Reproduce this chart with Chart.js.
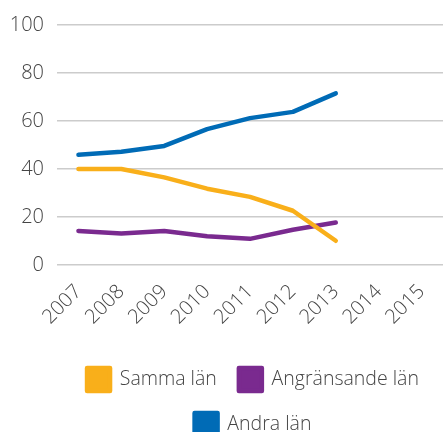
<!DOCTYPE html>
<html>
<head>
<meta charset="utf-8">
<script src="https://cdn.jsdelivr.net/npm/chart.js@4/dist/chart.umd.min.js"></script>
<style>
html,body{margin:0;padding:0;background:#fff;overflow:hidden;}
#wrap{width:443px;height:432px;overflow:hidden;}
</style>
</head>
<body>
<div id="wrap"><canvas id="c" width="443" height="446"></canvas></div>
<script>
const years = ['2007','2008','2009','2010','2011','2012','2013','2014','2015'];
const sammaLan = [40, 40, 36.5, 31.8, 28.4, 22.6, 10.1];
const angransandeLan = [14.2, 13.1, 14.2, 12.0, 10.9, 14.7, 17.7];
const andraLan = [45.9, 47.2, 49.6, 56.6, 61.2, 63.8, 71.5];
const yTicks = [0, 20, 40, 60, 80, 100];

const FONT = "'Open Sans', sans-serif";
const mk = (label, data, color) => ({
  label, data, borderColor: color, backgroundColor: color,
  borderWidth: 4.5, pointRadius: 0, tension: 0,
  borderCapStyle: 'round', borderJoinStyle: 'round', fill: false
});

const legendShift = {
  id: 'legendShift',
  afterLayout(chart) {
    const l = chart.legend, a = chart.chartArea;
    if (!l) return;
    const dx = (a.left + a.right) / 2 - (l.left + l.right) / 2 + 3;
    l.left += dx; l.right += dx;
  }
};

new Chart(document.getElementById('c'), {
  type: 'line',
  data: {
    labels: years,
    datasets: [
      mk('Samma län', sammaLan, '#F9AF1A'),
      mk('Angränsande län', angransandeLan, '#7A2A8F'),
      mk('Andra län', andraLan, '#006BB6')
    ]
  },
  plugins: [legendShift],
  options: {
    responsive: false,
    animation: false,
    layout: { padding: { top: 8, right: 0, left: 9, bottom: 0 } },
    scales: {
      x: {
        offset: true,
        grid: { display: false, drawTicks: false },
        border: { display: false },
        afterFit: s => { s.height = 81; s.paddingLeft = 0; s.paddingRight = 0; },
        ticks: { minRotation: 45, maxRotation: 45, color: '#444', padding: 15,
                 font: { family: FONT, size: 20, weight: 300 } }
      },
      y: {
        min: 0, max: 100,
        afterBuildTicks: ax => { ax.ticks = yTicks.map(v => ({ value: v })); },
        afterFit: s => { s.width = 48; },
        grid: { color: '#cccccc', lineWidth: 1.5, drawTicks: false },
        border: { display: false },
        ticks: { color: '#444', padding: 13, font: { family: FONT, size: 20, weight: 300 } }
      }
    },
    plugins: {
      legend: {
        position: 'bottom',
        labels: { boxWidth: 23, boxHeight: 23, padding: 22, color: '#444',
                  font: { family: FONT, size: 19.5, weight: 300 } }
      },
      tooltip: { enabled: false }
    }
  }
});
</script>
</body>
</html>
